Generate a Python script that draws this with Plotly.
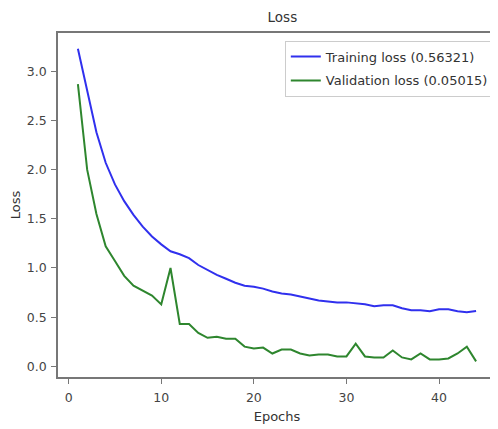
import plotly.graph_objects as go

epochs = list(range(1, 45))
training_loss = [3.23, 2.79, 2.38, 2.07, 1.85, 1.68, 1.54, 1.42, 1.32, 1.24,
                 1.17, 1.14, 1.10, 1.03, 0.98, 0.93, 0.89, 0.85, 0.82, 0.81,
                 0.79, 0.76, 0.74, 0.73, 0.71, 0.69, 0.67, 0.66, 0.65, 0.65,
                 0.64, 0.63, 0.61, 0.62, 0.62, 0.59, 0.57, 0.57, 0.56, 0.58,
                 0.58, 0.56, 0.55, 0.56321]
validation_loss = [2.87, 2.00, 1.55, 1.22, 1.07, 0.92, 0.82, 0.77, 0.72, 0.63,
                   1.00, 0.43, 0.43, 0.34, 0.29, 0.30, 0.28, 0.28, 0.20, 0.18,
                   0.19, 0.13, 0.17, 0.17, 0.13, 0.11, 0.12, 0.12, 0.10, 0.10,
                   0.23, 0.10, 0.09, 0.09, 0.16, 0.09, 0.07, 0.13, 0.07, 0.07,
                   0.08, 0.13, 0.20, 0.05015]
train_name = "Training loss (0.56321)"
val_name = "Validation loss (0.05015)"
x_ticks = [0, 10, 20, 30, 40]
y_ticks = [0.0, 0.5, 1.0, 1.5, 2.0, 2.5, 3.0]

fig = go.Figure()
fig.add_trace(go.Scatter(x=epochs, y=training_loss, mode="lines", name=train_name,
                         line=dict(color="#3030ee", width=2), legendgroup="a"))
fig.add_trace(go.Scatter(x=epochs, y=validation_loss, mode="lines", name=val_name,
                         line=dict(color="#2e862e", width=2), legendgroup="b"))

axis_common = dict(showline=True, mirror=True, linecolor="#777", linewidth=1.5,
                   ticks="outside", ticklen=5, tickcolor="#777", showgrid=False,
                   zeroline=False, automargin=False,
                   tickfont=dict(size=12.5, color="#444"))
# the page body has an 8px default margin, so the figure is sized/offset to fit
fig.update_layout(
    width=490, height=421,
    margin=dict(l=50, r=2, t=25, b=52),
    paper_bgcolor="white", plot_bgcolor="white",
    font=dict(family="DejaVu Sans", color="#333"),
    title=dict(text="Loss", x=0.56, xanchor="center", y=0.979, yanchor="middle",
               font=dict(size=13.5, color="#333")),
    xaxis=dict(range=[-1.15, 46.15], tickvals=x_ticks, ticklabelstandoff=3,
               title=dict(text="Epochs", font=dict(size=13), standoff=8), **axis_common),
    yaxis=dict(range=[-0.109, 3.39], tickvals=y_ticks, tickformat=".1f",
               ticklabelstandoff=2,
               title=dict(text="Loss", font=dict(size=13), standoff=6), **axis_common),
    legend=dict(x=0.995, y=0.978, xanchor="right", yanchor="top",
                bordercolor="#ccc", borderwidth=1, bgcolor="rgba(255,255,255,0.8)",
                font=dict(size=13, color="#333"), tracegroupgap=4, itemwidth=30),
    showlegend=True,
)
fig.write_html("out.html")
